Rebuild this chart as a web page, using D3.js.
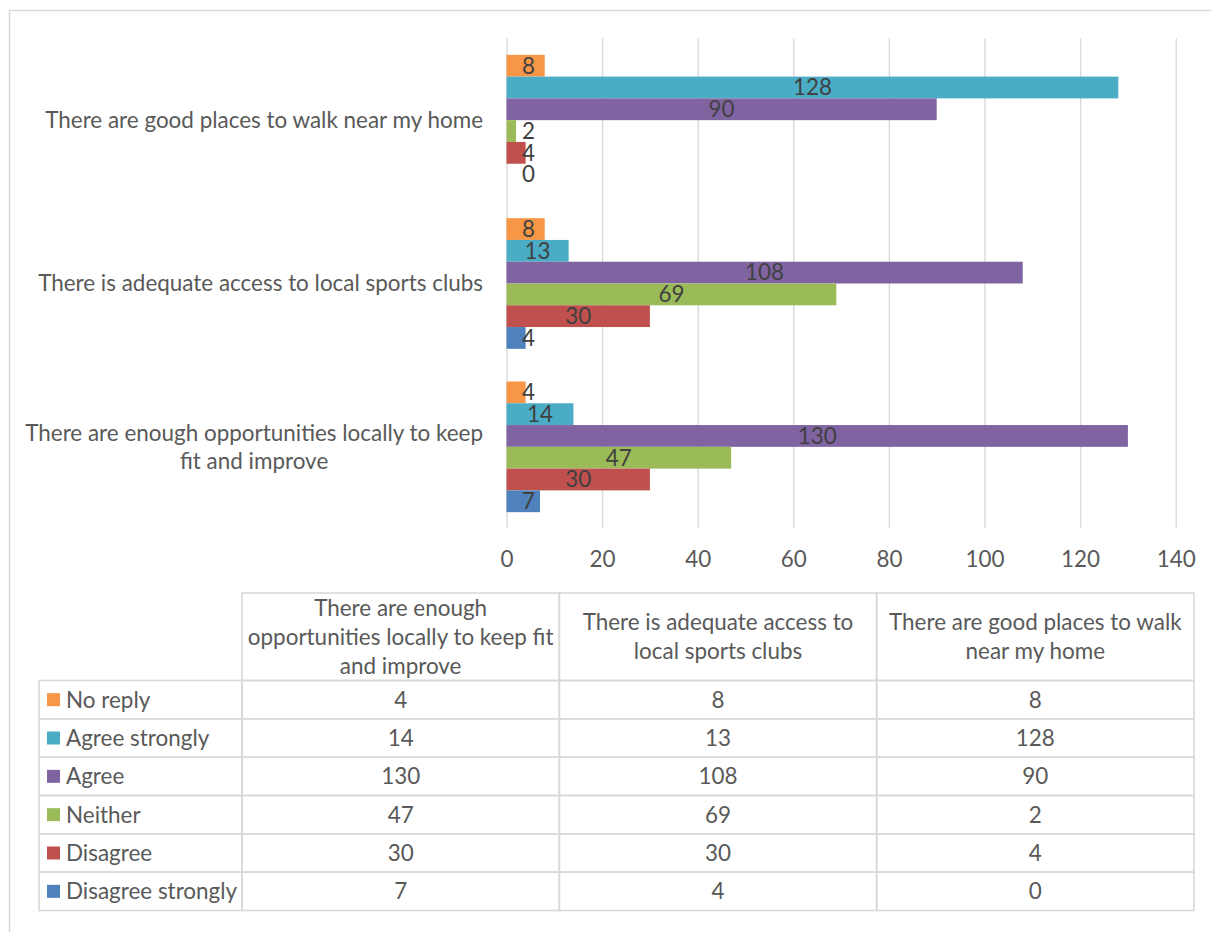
<!DOCTYPE html>
<html>
<head>
<meta charset="utf-8">
<script src="https://cdn.jsdelivr.net/npm/d3@7"></script>
<style>
  html, body { margin: 0; padding: 0; background: #fff; }
  svg { display: block; }
</style>
</head>
<body>
<svg id="chart" width="1211" height="932"></svg>
<script>
// ---- data ----
const categories = [
  "There are enough opportunities locally to keep fit and improve",
  "There is adequate access to local sports clubs",
  "There are good places to walk near my home"
];
// axis label lines (as in the picture)
const axisLabelLines = [
  ["There are enough opportunities locally to keep", "fit and improve"],
  ["There is adequate access to local sports clubs"],
  ["There are good places to walk near my home"]
];
// table header lines
const headerLines = [
  ["There are enough", "opportunities locally to keep fit", "and improve"],
  ["There is adequate access to", "local sports clubs"],
  ["There are good places to walk", "near my home"]
];
const seriesNames = ["No reply", "Agree strongly", "Agree", "Neither", "Disagree", "Disagree strongly"];
const seriesColors = ["#F79646", "#4BACC6", "#8064A2", "#9BBB59", "#C0504D", "#4F81BD"];
// values per series, in category order (enough, adequate, good)
const noReply = [4, 8, 8];
const agreeStrongly = [14, 13, 128];
const agree = [130, 108, 90];
const neither = [47, 69, 2];
const disagree = [30, 30, 4];
const disagreeStrongly = [7, 4, 0];
const seriesValues = [noReply, agreeStrongly, agree, neither, disagree, disagreeStrongly];
const xTicks = [0, 20, 40, 60, 80, 100, 120, 140];

// ---- setup ----
const svg = d3.select("#chart");
const FONT = "Lato, 'Open Sans', 'Noto Sans', sans-serif";
const textGray = "#595959";
const labelGray = "#404040";
const lineGray = "#d9d9d9";

// fit font size so text width resembles reference
const probe = svg.append("text").attr("font-family", FONT).attr("font-size", 100)
  .text("There are good places to walk near my home");
const pw = probe.node().getComputedTextLength();
probe.remove();
const FS = Math.min(24, 100 * 438 / pw);

svg.append("rect").attr("x", 0).attr("y", 0).attr("width", 1211).attr("height", 932).attr("fill", "#fff");
// outer chart frame
svg.append("rect").attr("x", 9.5).attr("y", 10.5).attr("width", 1220).attr("height", 940)
  .attr("fill", "none").attr("stroke", lineGray).attr("stroke-width", 1.5);

// ---- scales ----
const x = d3.scaleLinear().domain([0, 140]).range([506.5, 1175.7]);
const plotTop = 38.5, plotBottom = 528.5;
const y = d3.scaleBand().domain(categories.slice().reverse()).range([plotTop, plotBottom])
  .paddingInner(0.2).paddingOuter(0.1);
const ySub = d3.scaleBand().domain(seriesNames).range([0, y.bandwidth()]);

// ---- gridlines + x axis ----
const xAxis = d3.axisBottom(x).tickValues(xTicks).tickSize(-(plotBottom - plotTop)).tickPadding(0)
  .tickFormat(d3.format("d"));
const gx = svg.append("g").attr("transform", `translate(0,${plotBottom})`).call(xAxis);
gx.select(".domain").remove();
gx.selectAll(".tick line").attr("stroke", lineGray).attr("stroke-width", 1.4);
gx.selectAll(".tick text").attr("font-family", FONT).attr("font-size", FS).attr("fill", textGray)
  .attr("y", 30.5).attr("dy", "0.35em");

// ---- bars ----
const groups = svg.append("g").selectAll("g.cat").data(categories).join("g")
  .attr("class", "cat").attr("transform", d => `translate(0,${y(d)})`);

groups.each(function(cat, ci) {
  const g = d3.select(this);
  seriesNames.forEach((s, si) => {
    const v = seriesValues[si][ci];
    g.append("rect")
      .attr("x", x(0)).attr("y", ySub(s))
      .attr("width", x(v) - x(0)).attr("height", ySub.bandwidth())
      .attr("fill", seriesColors[si]);
  });
  seriesNames.forEach((s, si) => {
    const v = seriesValues[si][ci];
    const t = g.append("text")
      .attr("font-family", FONT).attr("font-size", FS).attr("fill", labelGray)
      .attr("text-anchor", "middle").attr("dy", "0.35em")
      .attr("y", ySub(s) + ySub.bandwidth() / 2).text(v);
    const w = t.node().getComputedTextLength();
    let cx = (x(0) + x(v)) / 2;
    const minLeft = x(0) + 15.5;
    if (cx - w / 2 < minLeft) cx = minLeft + w / 2;
    t.attr("x", cx);
  });
});

// ---- category labels ----
const lineH = 28;
categories.forEach((cat, ci) => {
  const lines = axisLabelLines[ci];
  const cy = y(cat) + y.bandwidth() / 2;
  const g = svg.append("g");
  const texts = lines.map((ln, li) => g.append("text")
    .attr("font-family", FONT).attr("font-size", FS).attr("fill", textGray)
    .attr("text-anchor", "middle").attr("dy", "0.35em")
    .attr("y", cy + (li - (lines.length - 1) / 2) * lineH).text(ln));
  const maxW = d3.max(texts, t => t.node().getComputedTextLength());
  const right = 483;
  texts.forEach(t => t.attr("x", right - maxW / 2));
});

// ---- data table ----
const colX = d3.scaleBand().domain(categories).range([242, 1194]);
const headerTop = 593, headerBottom = 680.5, tableBottom = 910.5;
const rowY = d3.scaleBand().domain(seriesNames).range([headerBottom, tableBottom]);
const tableLeft = 39;
const tg = svg.append("g");

// header cells
categories.forEach((cat, ci) => {
  const x0 = colX(cat), w = colX.bandwidth();
  tg.append("rect").attr("x", x0).attr("y", headerTop).attr("width", w).attr("height", headerBottom - headerTop)
    .attr("fill", "none").attr("stroke", lineGray).attr("stroke-width", 1.6);
  const lines = headerLines[ci];
  const cy = (headerTop + headerBottom) / 2;
  lines.forEach((ln, li) => {
    tg.append("text").attr("font-family", FONT).attr("font-size", FS).attr("fill", textGray)
      .attr("text-anchor", "middle").attr("dy", "0.35em")
      .attr("x", x0 + w / 2).attr("y", cy + (li - (lines.length - 1) / 2) * 29).text(ln);
  });
});

// rows
seriesNames.forEach((s, si) => {
  const y0 = rowY(s), h = rowY.bandwidth();
  tg.append("rect").attr("x", tableLeft).attr("y", y0).attr("width", 242 - tableLeft).attr("height", h)
    .attr("fill", "none").attr("stroke", lineGray).attr("stroke-width", 1.6);
  tg.append("rect").attr("x", 47).attr("y", y0 + h / 2 - 6.5).attr("width", 13).attr("height", 13)
    .attr("fill", seriesColors[si]);
  tg.append("text").attr("font-family", FONT).attr("font-size", FS).attr("fill", textGray)
    .attr("dy", "0.35em").attr("x", 66).attr("y", y0 + h / 2).text(s);
  categories.forEach((cat, ci) => {
    const x0 = colX(cat), w = colX.bandwidth();
    tg.append("rect").attr("x", x0).attr("y", y0).attr("width", w).attr("height", h)
      .attr("fill", "none").attr("stroke", lineGray).attr("stroke-width", 1.6);
    tg.append("text").attr("font-family", FONT).attr("font-size", FS).attr("fill", textGray)
      .attr("text-anchor", "middle").attr("dy", "0.35em")
      .attr("x", x0 + w / 2).attr("y", y0 + h / 2).text(seriesValues[si][ci]);
  });
});
</script>
</body>
</html>
